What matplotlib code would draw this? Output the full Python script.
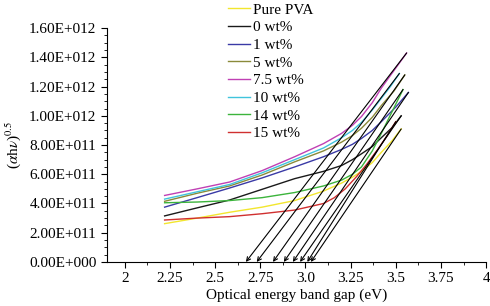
import matplotlib
matplotlib.use('Agg')
import matplotlib.pyplot as plt
import numpy as np

plt.rcParams['font.family'] = ['Liberation Serif', 'DejaVu Serif']
plt.rcParams['mathtext.fontset'] = 'stix'

labels = ['Pure PVA', '0 wt%', '1 wt%', '5 wt%', '7.5 wt%', '10 wt%', '14 wt%', '15 wt%']
colors = ['#f2e62e', '#1a1a1a', '#3a3aa6', '#8a8a3a', '#c040b4', '#40c4dc', '#3cb43c', '#d03030']

# photon energy (eV) samples
x_pure = [2.22, 2.40, 2.58, 2.76, 2.94, 3.10, 3.20, 3.26, 3.31, 3.37, 3.42, 3.48, 3.53]
x_0 = [2.22, 2.40, 2.58, 2.76, 2.94, 3.10, 3.20, 3.26, 3.31, 3.37, 3.42, 3.48, 3.53]
x_1 = [2.22, 2.40, 2.58, 2.76, 2.94, 3.10, 3.20, 3.26, 3.31, 3.37, 3.42, 3.50, 3.57]
x_5 = [2.22, 2.40, 2.58, 2.76, 2.94, 3.10, 3.20, 3.26, 3.31, 3.37, 3.42, 3.49, 3.55]
x_75 = [2.22, 2.40, 2.58, 2.76, 2.94, 3.10, 3.20, 3.26, 3.31, 3.37, 3.42, 3.49, 3.56]
x_10 = [2.22, 2.40, 2.58, 2.76, 2.94, 3.10, 3.20, 3.26, 3.31, 3.37, 3.42, 3.47, 3.52]
x_14 = [2.22, 2.40, 2.58, 2.76, 2.94, 3.10, 3.20, 3.26, 3.31, 3.37, 3.42, 3.48, 3.54]
x_15 = [2.22, 2.40, 2.58, 2.76, 2.94, 3.10, 3.16, 3.22, 3.28, 3.34, 3.40, 3.45, 3.50]

# (alpha h nu)^0.5 in units of 1e11
y_pure = [2.62, 3.0, 3.4, 3.75, 4.2, 4.85, 5.4, 5.8, 6.2, 6.8, 7.5, 8.3, 9.1]
y_0 = [3.15, 3.7, 4.24, 4.97, 5.7, 6.2, 6.6, 7.0, 7.4, 7.9, 8.5, 9.2, 10.0]
y_1 = [3.75, 4.4, 5.06, 5.75, 6.5, 7.2, 7.7, 8.05, 8.45, 9.0, 9.6, 10.6, 11.6]
y_5 = [4.15, 4.7, 5.2, 5.95, 6.85, 7.6, 8.2, 8.65, 9.15, 9.9, 10.7, 11.7, 12.8]
y_75 = [4.55, 5.0, 5.47, 6.25, 7.2, 8.1, 8.8, 9.35, 9.95, 10.9, 11.9, 13.1, 14.3]
y_10 = [4.3, 4.8, 5.3, 6.1, 7.0, 7.8, 8.5, 9.0, 9.55, 10.4, 11.2, 12.0, 12.9]
y_14 = [4.05, 4.1, 4.2, 4.4, 4.75, 5.2, 5.6, 6.0, 6.5, 7.6, 8.8, 10.3, 11.8]
y_15 = [2.87, 3.0, 3.1, 3.3, 3.55, 4.0, 4.4, 5.0, 5.8, 6.7, 7.7, 8.6, 9.6]

# extrapolated band gaps (eV)
band_gap = [3.03, 2.97, 2.93, 2.82, 2.67, 2.73, 2.88, 3.01]

xs = [x_pure, x_0, x_1, x_5, x_75, x_10, x_14, x_15]
ys = [y_pure, y_0, y_1, y_5, y_75, y_10, y_14, y_15]

xticks = [2, 2.25, 2.5, 2.75, 3.0, 3.25, 3.5, 3.75, 4]
xticklabels = ['2', '2.25', '2.5', '2.75', '3.0', '3.25', '3.5', '3.75', '4']
yticks = [0, 2e11, 4e11, 6e11, 8e11, 1e12, 1.2e12, 1.4e12, 1.6e12]
yticklabels = ['0.00E+000', '2.00E+011', '4.00E+011', '6.00E+011', '8.00E+011',
               '1.00E+012', '1.20E+012', '1.40E+012', '1.60E+012']

fig = plt.figure(figsize=(4.9, 3.06), dpi=100)
ax = fig.add_axes([0.218, 0.144, 0.774, 0.764])

for x, y, c, lab in zip(xs, ys, colors, labels):
    ax.plot(x, np.array(y) * 1e11, color=c, lw=1.0, label=lab)

for x, y, eg in zip(xs, ys, band_gap):
    ax.annotate('', xy=(eg, 0), xytext=(x[-1], y[-1] * 1e11),
                arrowprops=dict(arrowstyle='->', color='black', lw=0.8,
                                shrinkA=0, shrinkB=0, mutation_scale=7))

ax.set_xlim(1.9, 4.0)
ax.set_ylim(0, 1.6e12)
ax.set_xticks(xticks)
ax.set_xticklabels(xticklabels)
ax.set_xticks(np.arange(2.125, 4.0, 0.25), minor=True)
ax.set_yticks(yticks)
ax.set_yticklabels(yticklabels)
ax.set_yticks(np.arange(0, 1.6e12, 5e10), minor=True)
ax.tick_params(labelsize=11, direction='out', length=4, width=0.8)
ax.tick_params(which='minor', direction='out', length=2, width=0.6)
for s in ['top', 'right']:
    ax.spines[s].set_visible(False)

ax.set_xlabel('Optical energy band gap (eV)', fontsize=11, labelpad=2)
ax.set_ylabel(r'($\alpha$h$\nu$)$^{0.5}$', fontsize=11, labelpad=4)

ax.legend(loc='upper left', bbox_to_anchor=(219 / 490, 1.02),
          bbox_transform=fig.transFigure, frameon=False, fontsize=11,
          handlelength=1.45, handletextpad=0.2, labelspacing=0.26,
          borderpad=0.1)

fig.savefig('out.png', dpi=100)
